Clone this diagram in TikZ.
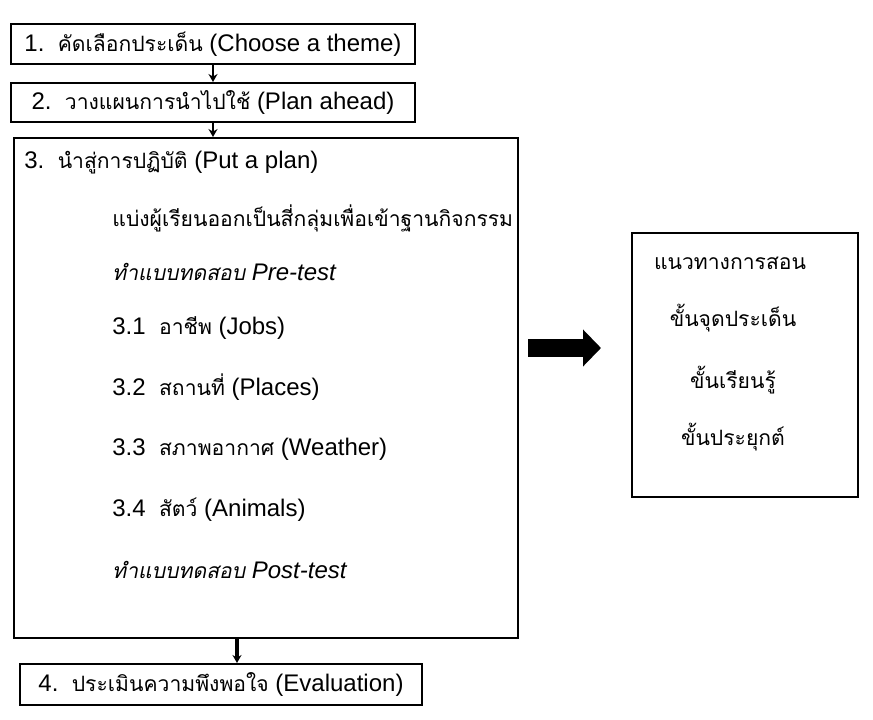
\documentclass[tikz,border=0pt]{standalone}
\usepackage{fontspec}
\setmainfont{Liberation Sans}
\newfontfamily\thai[Script=Thai, Scale=0.88, AutoFakeSlant=0.2]{Loma}
\usetikzlibrary{positioning, arrows.meta}
\tikzset{
box/.style={draw, line width=1pt, inner sep=2pt, font=\fontsize{12}{14}\selectfont}, % the framed steps
item/.style={anchor=west, inner sep=0pt, font=\fontsize{12}{14}\selectfont}, % a line of text inside a frame
stage/.style={inner sep=0pt, font=\fontsize{12}{14}\selectfont\thai}, % a line of the teaching guide
flow/.style={-{Stealth[length=4pt, width=4.5pt]}, line width=1pt}, % thin arrow between steps
bigflow/.style={line width=9pt, -{Triangle[length=9pt, width=18pt]}, shorten <=4.5pt, shorten >=15pt}, % the heavy arrow
}
\begin{document}
\begin{tikzpicture}[x=0.5pt, y=-0.5pt]
\useasboundingbox (0,0) rectangle (873,719);
% steps of the plan
\node[box, minimum width=202pt, minimum height=20pt] (theme) at (213,44) {1.\ \ {\thai คัดเลือกประเด็น} (Choose a theme)};
\node[box, minimum width=202pt, minimum height=19.5pt] (plan) at (213,102.5) {2.\ \ {\thai วางแผนการนำไปใช้} (Plan ahead)};
\node[box, minimum width=252pt, minimum height=250pt] (put) at (266,388) {};
\node[box, minimum width=201pt, minimum height=20.5pt] (eval) at (221,684.5) {4.\ \ {\thai ประเมินความพึงพอใจ} (Evaluation)};
\node[box, minimum width=113pt, minimum height=132pt] (guide) at (745,365) {};
% contents of step 3
\node[item] (title) at (24,163) {3.\ \ {\thai นำสู่การปฏิบัติ} (Put a plan)};
\node[item] (groups) at (112,218) {\thai แบ่งผู้เรียนออกเป็นสี่กลุ่มเพื่อเข้าฐานกิจกรรม};
\node[item, font=\fontsize{12}{14}\selectfont\itshape] (pre) at (112,272) {{\thai ทำแบบทดสอบ} Pre-test};
\node[item] (jobs) at (112,328) {3.1\ \ {\thai อาชีพ} (Jobs)};
\node[item] (places) at (112,387) {3.2\ \ {\thai สถานที่} (Places)};
\node[item] (weather) at (112,449) {3.3\ \ {\thai สภาพอากาศ} (Weather)};
\node[item] (animals) at (112,510) {3.4\ \ {\thai สัตว์} (Animals)};
\node[item, font=\fontsize{12}{14}\selectfont\itshape] (post) at (112,570) {{\thai ทำแบบทดสอบ} Post-test};
% teaching guide
\node[stage] (guidetitle) at (730,263) {แนวทางการสอน};
\node[stage] (spark) at (733,318) {ขั้นจุดประเด็น};
\node[stage] (learn) at (733,380) {ขั้นเรียนรู้};
\node[stage] (apply) at (733,437) {ขั้นประยุกต์};
% arrows
\coordinate (drop) at (237,0);
\coordinate (mid) at (0,348);
\draw[flow] (theme.south) -- (plan.north);
\draw[flow] (plan.south) -- (plan.south |- put.north);
\draw[flow, line width=2pt] (put.south -| drop) -- (eval.north -| drop);
\draw[bigflow] (put.east |- mid) -- (guide.west |- mid);
\end{tikzpicture}
\end{document}
